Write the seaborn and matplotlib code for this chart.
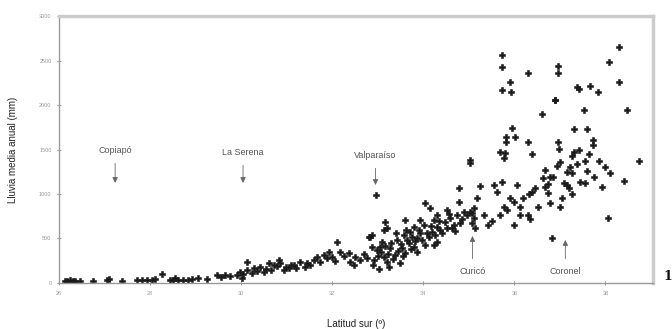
import matplotlib
matplotlib.use("Agg")
import matplotlib.pyplot as plt
import seaborn as sns
import pandas as pd

# Latitude (degrees south) and annual mean rainfall (mm)
lat = [
    26.13, 26.24, 26.35, 26.46, 26.75, 27.05, 27.38, 27.71, 27.82, 27.93, 28.04,
    28.26, 28.44, 28.51, 28.62, 28.73, 28.84, 28.91, 29.25, 29.47, 29.65,
    26.18, 26.30, 27.10, 28.10, 28.55, 29.05, 29.55, 29.75,
    29.90, 29.98, 30.02, 30.24, 30.13, 30.13, 30.27, 30.42, 30.49, 30.60, 30.71,
    30.82, 30.86, 30.93, 31.04, 30.05, 30.35, 30.55, 30.65, 30.78, 30.98, 31.10,
    31.15, 31.30, 31.41, 31.52, 31.66, 31.74, 31.81, 31.92, 31.99, 32.10, 32.18,
    32.36, 32.47, 32.51, 32.62, 32.76, 31.20, 31.45, 31.60, 31.88, 32.05, 32.25,
    32.40, 32.70,
    32.80, 32.84, 32.87, 32.87, 32.91, 32.95, 32.98, 33.05, 33.09, 33.13, 33.13,
    33.16, 33.20, 33.20, 33.27, 33.38, 33.42, 33.53, 33.57, 33.60, 33.60, 33.64,
    33.71, 33.79, 33.79, 33.86, 33.86, 33.93, 33.93, 34.01, 34.04, 34.04, 34.12,
    34.15, 34.19, 34.23, 34.23, 34.30, 34.30, 34.30, 34.37, 34.52, 34.52, 34.59,
    34.67, 34.74, 34.78, 34.78, 34.81, 34.89,
    32.90, 33.00, 33.02, 33.08, 33.15, 33.22, 33.25, 33.30, 33.33, 33.40, 33.45,
    33.48, 33.50, 33.55, 33.62, 33.68, 33.72, 33.75, 33.82, 33.90, 33.97, 34.08,
    34.18, 34.26, 34.35, 34.42, 34.48, 34.56, 34.62, 34.70, 34.85, 34.95,
    35.02, 35.02, 35.03, 35.07, 35.07, 35.11, 35.11, 35.14, 35.25, 35.33, 35.43,
    35.55, 35.62, 35.69, 35.73, 35.77, 35.84, 35.91, 35.99, 35.99, 36.13, 36.13,
    36.20, 36.31, 36.35, 36.39, 36.46, 36.53, 35.50, 35.18,
    35.69, 35.77, 35.80, 36.39, 36.61, 36.68, 36.68, 36.75, 36.75, 36.79, 36.79,
    36.83, 36.86, 36.90, 36.94, 36.97, 37.01, 37.01, 37.05, 37.08, 37.16, 37.16,
    37.19, 37.23, 37.27, 37.27, 37.27, 37.30, 37.38, 37.41, 37.45, 37.56, 37.56,
    37.60, 37.63, 37.74, 37.87, 37.93, 38.00, 38.06, 38.11, 38.40, 38.73, 36.64,
    35.73, 35.73, 35.91, 35.73, 35.93, 36.31, 36.95, 36.95, 36.90, 37.38, 37.41,
    37.67, 37.83, 38.08, 38.29, 38.29, 37.54, 38.48, 35.95, 37.32, 37.60, 35.82,
    36.02, 35.82, 36.31, 36.96, 37.73, 37.73, 36.33, 36.05,
]
rain = [
    25, 28, 22, 26, 24, 30, 22, 35, 30, 32, 28,
    101, 34, 38, 32, 36, 34, 40, 45, 90, 90,
    18, 20, 40, 45, 50, 60, 70, 80,
    90, 127, 53, 109, 240, 146, 165, 183, 127, 221, 202,
    258, 221, 146, 165, 100, 130, 160, 140, 190, 180, 200,
    202, 240, 183, 202, 296, 240, 315, 352, 296, 464, 352,
    334, 202, 296, 258, 277, 170, 220, 260, 280, 250, 300,
    230, 320,
    520, 513, 539, 408, 258, 989, 371, 408, 464, 596, 296,
    689, 240, 615, 390, 315, 483, 390, 539, 708, 334, 483,
    577, 633, 408, 502, 352, 708, 558, 652, 896, 427, 520,
    839, 577, 708, 427, 764, 633, 464, 596, 820, 615, 727,
    652, 764, 1064, 913, 671, 801,
    200, 300, 160, 350, 420, 330, 180, 450, 270, 560, 360,
    220, 440, 300, 600, 450, 380, 520, 470, 600, 480, 560,
    640, 540, 700, 560, 690, 780, 620, 580, 720, 760,
    1382, 1345, 801, 671, 787, 727, 839, 615, 1090, 764, 652,
    1101, 1026, 764, 1138, 857, 820, 952, 913, 652, 857, 764,
    952, 764, 716, 1026, 1064, 857, 700, 950,
    1475, 1401, 1457, 1449, 1896, 1270, 1082, 1112, 1008, 1195, 902,
    502, 1188, 2056, 1315, 1502, 1363, 851, 952, 1120, 1251, 1101,
    1064, 1307, 1233, 1427, 1000, 1475, 1337, 1494, 1138, 1374, 1120,
    1262, 1449, 1195, 1374, 1075, 1300, 727, 1233, 1149, 1374, 1176,
    2562, 2424, 2255, 2169, 2149, 2363, 2438, 2363, 2056, 2199, 2180,
    2213, 2146, 2480, 2652, 2255, 1944, 1944, 1745, 1727, 1727, 1644,
    1644, 1588, 1581, 1588, 1607, 1551, 1000, 1100,
]

place_names = ["Copiapó", "La Serena", "Valparaíso", "Curicó", "Coronel"]
place_lat = [27.23, 30.04, 32.95, 35.08, 37.12]
label_rain = [1494, 1472, 1438, 124, 124]
arrow_tip_rain = [1124, 1124, 1101, 528, 483]

x_ticks = [26, 28, 30, 32, 34, 36, 38]
y_ticks = [0, 500, 1000, 1500, 2000, 2500, 3000]

df = pd.DataFrame({"lat": lat, "rain": rain})

sns.set_theme(style="white")
plt.rcParams["font.family"] = ["Liberation Sans", "DejaVu Sans"]

fig = plt.figure(figsize=(6.72, 3.29), dpi=100)
ax = fig.add_axes([0.088, 0.140, 0.884, 0.811])

sns.scatterplot(data=df, x="lat", y="rain", ax=ax, marker="P", s=22,
                color="#1a1a1a", edgecolor="#1a1a1a", linewidth=0.4)

for name, x, ty, ay in zip(place_names, place_lat, label_rain, arrow_tip_rain):
    ax.annotate(name, xy=(x, ay), xytext=(x, ty), ha="center", va="center",
                fontsize=6.5, color="#555555",
                arrowprops=dict(arrowstyle="-|>", color="#666666", lw=0.6,
                                mutation_scale=8, shrinkA=4, shrinkB=0,
                                facecolor="#222222"))

ax.set_xlim(26, 39.05)
ax.set_ylim(0, 3000)
ax.set_xticks(x_ticks)
ax.set_yticks(y_ticks)
ax.set_xticklabels([str(t) for t in x_ticks])
ax.set_yticklabels([str(t) for t in y_ticks])
ax.tick_params(axis="both", direction="inout", length=3, width=0.6,
               color="#888888", labelsize=4, labelcolor="#999999", pad=4)
ax.tick_params(axis="both", which="both", bottom=True, left=True)

ax.set_xlabel("Latitud sur (º)", fontsize=7, color="#222222", labelpad=17)
ax.set_ylabel("Lluvia media anual (mm)", fontsize=7, color="#222222", labelpad=15)

for side in ["left", "bottom"]:
    ax.spines[side].set_color("#999999")
    ax.spines[side].set_linewidth(1.0)
for side in ["top", "right"]:
    ax.spines[side].set_color("#cccccc")
    ax.spines[side].set_linewidth(2.5)
    ax.spines[side].set_visible(True)

fig.text(0.988, 1 - 276 / 329, "1", fontsize=9, fontweight="bold",
         family="DejaVu Serif", ha="left", va="center", color="#111111")

fig.savefig("out.png", dpi=100)
